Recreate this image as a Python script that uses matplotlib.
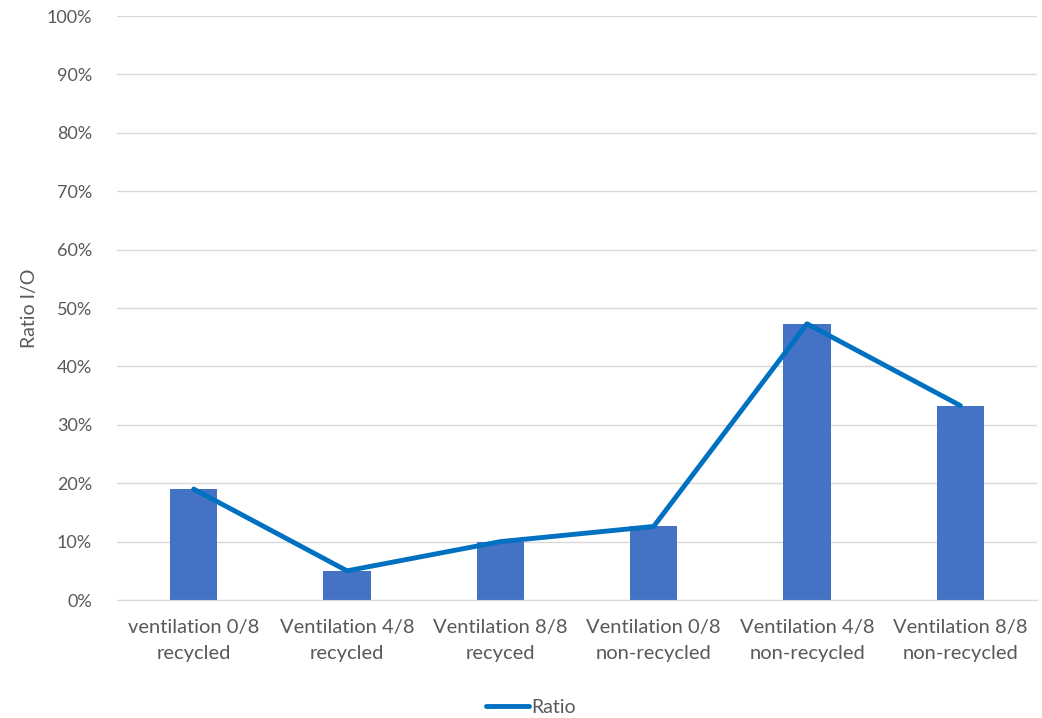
import matplotlib.pyplot as plt
import matplotlib.ticker as mtick

categories = ['ventilation 0/8\nrecycled', 'Ventilation 4/8\nrecycled', 'Ventilation 8/8\nrecyced',
              'Ventilation 0/8\nnon-recycled', 'Ventilation 4/8\nnon-recycled', 'Ventilation 8/8\nnon-recycled']
bar_values = [0.190, 0.049, 0.100, 0.126, 0.473, 0.333]
ratio = [0.190, 0.050, 0.100, 0.126, 0.473, 0.333]

plt.rcParams['font.family'] = ['Lato', 'DejaVu Sans']

fig = plt.figure(figsize=(10.42, 7.18), dpi=100)
ax = fig.add_axes([0.1123, 0.1643, 0.8829, 0.8134])

x = range(len(categories))
ax.bar(x, bar_values, width=0.31, color='#4472C4', zorder=2)
ax.plot(x, ratio, color='#0070C0', lw=3.5, label='Ratio', zorder=3, solid_capstyle='round')

ax.set_xlim(-0.5, len(categories) - 0.5)
ax.set_ylim(0, 1)
ax.set_yticks([i / 10 for i in range(11)])
ax.yaxis.set_major_formatter(mtick.PercentFormatter(1.0, decimals=0))
ax.grid(axis='y', color='#D9D9D9', lw=1, zorder=0)
for s in ['top', 'right', 'left']:
    ax.spines[s].set_visible(False)
ax.spines['bottom'].set_color('#D9D9D9')
ax.tick_params(axis='both', length=0, colors='#595959', labelsize=13)
ax.tick_params(axis='y', pad=18)
ax.tick_params(axis='x', pad=14, labelsize=14.5)
ax.set_xticks(list(x))
ax.set_xticklabels(categories, linespacing=1.6)
ax.set_ylabel('Ratio I/O', fontsize=14, color='#595959', labelpad=6)

ax.legend(loc='upper center', bbox_to_anchor=(0.45, -0.14), frameon=False,
          fontsize=14, labelcolor='#595959', handlelength=2.2, handletextpad=0.1)

fig.savefig('out.png', dpi=100)
